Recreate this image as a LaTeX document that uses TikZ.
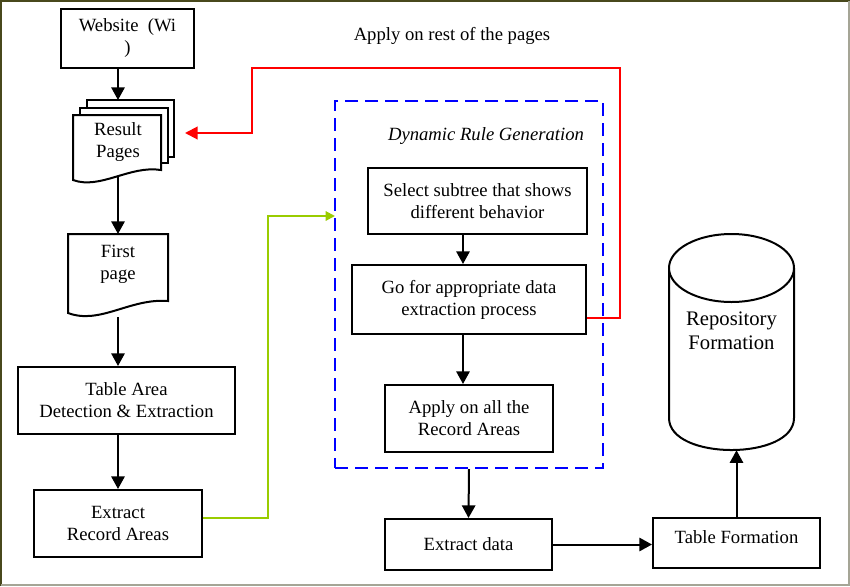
\documentclass[tikz,border=0pt]{standalone}
\usepackage{fontspec}
\setmainfont{Liberation Serif}
\usetikzlibrary{arrows.meta}
\definecolor{framedark}{RGB}{72,72,28}
\definecolor{framegray}{RGB}{165,165,150}
\definecolor{linegreen}{RGB}{153,204,0}
\newcommand{\diagfont}{\fontsize{14}{16.5}\selectfont}
\newcommand{\repofont}{\fontsize{15.5}{18}\selectfont}

\begin{document}
\begin{tikzpicture}[x=0.75pt,y=-0.75pt,
  box/.style={draw,line width=1.5pt,fill=white,align=center,inner sep=0pt,font=\diagfont},
  txt/.style={align=center,inner sep=0pt,font=\diagfont},
  arr/.style={-{Triangle[length=9.5pt,width=10pt]},line width=1.5pt},
  page/.style={draw,line width=1.5pt,fill=white}]
  \useasboundingbox (0,0) rectangle (850,586);
  \draw[framedark,line width=1.5pt] (1,586) -- (1,1) -- (850,1);
  \draw[framegray,line width=1.5pt] (849,1) -- (849,585) -- (1,585);

  % left column
  \node[box,minimum width=99.75pt,minimum height=44.25pt] (web) at (127.5,38.5) {Website\ \ (Wi\\)};
  \draw[page] (87,100) rectangle (174,157);
  \draw[page] (80,108) rectangle (168,163);
  \draw[page] (73,115) -- (161,115) -- (161,170) .. controls (130,165) and (100,190) .. (73,180) -- cycle;
  \node[txt] (res) at (118,142) {Result\\Pages};
  \coordinate (restop) at (118,100);
  \coordinate (resbot) at (118,176);
  \coordinate (resin) at (185,133);
  \draw[page] (68,234) -- (168,234) -- (168,301) .. controls (130,298) and (100,325) .. (68,313) -- cycle;
  \node[txt] (first) at (118,264) {First\\page};
  \coordinate (firsttop) at (118,234);
  \coordinate (firstbot) at (118,317);
  \node[box,minimum width=162.75pt,minimum height=50.25pt] (tarea) at (126.5,400.5) {Table Area\\Detection \& Extraction};
  \node[box,minimum width=126pt,minimum height=50.25pt] (era) at (118,523.5) {Extract\\Record Areas};

  \draw[arr] (web.south -| res) -- (restop);
  \draw[arr] (resbot) -- (firsttop);
  \draw[arr] (firstbot) -- (tarea.north -| first);
  \draw[arr] (tarea.south -| era) -- (era.north);

  % dynamic rule generation
  \node[draw=blue,line width=1.5pt,dash pattern=on 10pt off 5pt,minimum width=201pt,minimum height=275.25pt] (drg) at (469,284.5) {};
  \node[txt,font=\diagfont\itshape] (drglabel) at (486,136) {Dynamic Rule Generation};
  \node[box,minimum width=164.25pt,minimum height=49.5pt] (sel) at (477.5,201) {Select subtree that shows\\different behavior};
  \node[box,minimum width=175.5pt,minimum height=51.75pt] (gofor) at (469,299.5) {Go for appropriate data\\extraction process};
  \node[box,minimum width=126pt,minimum height=50.25pt] (apply) at (469,418.5) {Apply on all the\\Record Areas};
  \draw[arr] ([xshift=-4.5pt]gofor.north |- sel.south) -- ([xshift=-4.5pt]gofor.north);
  \draw[arr] ([xshift=-4.5pt]gofor.south) -- ([xshift=-4.5pt]gofor.south |- apply.north);

  \node[txt] (rest) at (452,36) {Apply on rest of the pages};
  \coordinate (gin) at (335,216);
  \draw[red,line width=1.5pt,-{Triangle[length=9.5pt,width=9.5pt]}] ([yshift=-14pt]gofor.east) -| (620,68) -| (252,133) -- (resin);
  \draw[linegreen,line width=1.5pt,-{Triangle[length=7pt,width=7pt]}] ([yshift=4pt]era.east) -| (268,216) -- (gin);

  % bottom row
  \node[box,minimum width=125.25pt,minimum height=38.25pt] (exd) at (468.5,544.5) {Extract data};
  \node[box,minimum width=125.25pt,minimum height=37.5pt,text depth=9pt] (tf) at (736.5,543) {Table Formation};
  \draw[arr] (drg.south) -- (exd.north);
  \draw[arr] (exd.east) -- (exd.east -| tf.west);

  % repository
  \node[minimum width=93.75pt,minimum height=162pt,inner sep=0pt] (repo) at (731.5,342) {};
  \draw[page] (669,268) -- (669,418) .. controls (669,460.7) and (794,460.7) .. (794,418) -- (794,268);
  \draw[page] (731.5,268) ellipse [x radius=62.5,y radius=34];
  \node[txt,font=\repofont] (repotxt) at (731.5,331) {Repository\\Formation};
  \draw[arr] (tf.north) -- (tf.north |- repo.south);
\end{tikzpicture}
\end{document}
